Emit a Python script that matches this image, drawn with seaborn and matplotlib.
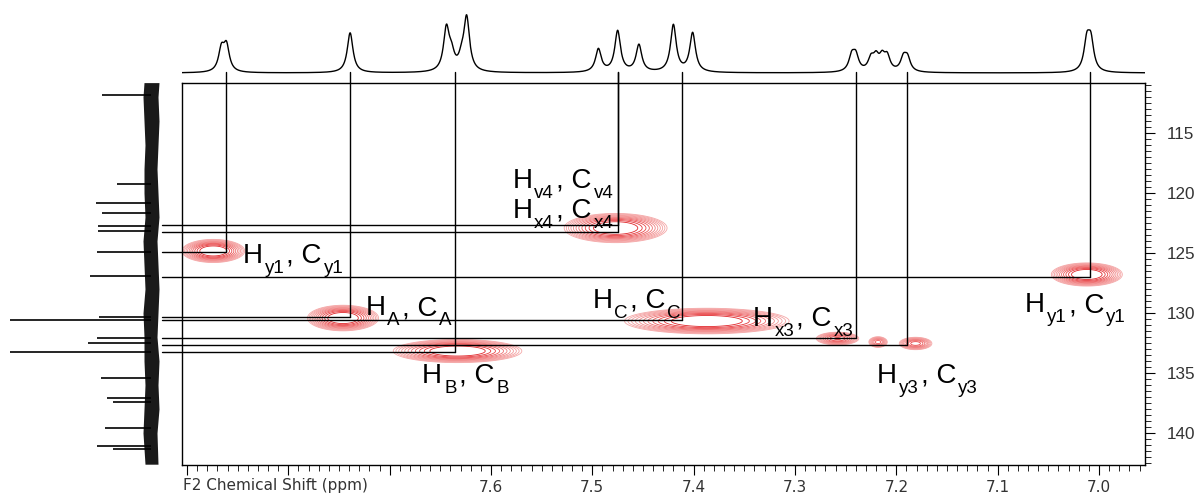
import numpy as np
import pandas as pd
import matplotlib
matplotlib.use("Agg")
import matplotlib.pyplot as plt
from matplotlib.colors import LinearSegmentedColormap
import seaborn as sns

# ---------------- data ----------------
# 1H projection (top trace): peak positions (ppm) and heights
h_peak_ppm = [7.866, 7.861, 7.739, 7.644, 7.639, 7.629, 7.624, 7.494, 7.475, 7.454,
              7.420, 7.401, 7.244, 7.240, 7.225, 7.220, 7.214, 7.209, 7.193, 7.189,
              7.012, 7.008]
h_peak_int = [22, 25, 40, 42, 15, 10, 53, 23, 41, 27,
              47, 39, 15, 15, 12, 13, 13, 14, 13, 13,
              29, 29]

# 13C projection (left trace): peak positions (ppm) and heights
c_peak_ppm = [111.8, 119.25, 120.8, 121.7, 122.75, 123.2, 124.9, 126.9, 130.33, 130.55,
              132.1, 132.5, 133.25, 135.4, 137.1, 137.4, 139.6, 141.1, 141.3]
c_peak_int = [49, 34, 55, 49, 53, 53, 54, 61, 52, 141,
              54, 63, 141, 50, 44, 38, 46, 54, 38]
# noise envelope of the 13C trace
noise_ppm = [110.8, 112, 114, 116, 118, 120, 122, 124, 126, 128, 130, 132, 134, 136, 138, 140, 142.6]
noise_hi = [7, 8, 7, 6, 7, 7, 6, 8, 7, 6, 8, 7, 7, 6, 7, 8, 6]
noise_lo = [-8, -7, -8, -7, -6, -7, -8, -6, -7, -8, -7, -6, -8, -7, -8, -6, -7]

# HSQC cross peaks: centre (1H, 13C), widths, relative amplitude
xp_h = [7.874, 7.746, 7.633, 7.477, 7.387, 7.258, 7.218, 7.181, 7.012]
xp_c = [124.83, 130.42, 133.17, 122.92, 130.67, 132.13, 132.42, 132.54, 126.79]
xp_wh = [0.0122, 0.0138, 0.025, 0.020, 0.032, 0.0095, 0.0045, 0.0075, 0.0138]
xp_wc = [0.38, 0.42, 0.38, 0.48, 0.42, 0.24, 0.22, 0.24, 0.38]
xp_amp = [1.0, 1.0, 1.0, 1.0, 1.0, 0.45, 0.3, 0.4, 1.0]

# assignments: guide-line positions
asg_h = [7.8615, 7.739, 7.6355, 7.4747, 7.4747, 7.4115, 7.2398, 7.1895, 7.0089]
asg_c = [124.92, 130.33, 133.25, 122.67, 123.25, 130.58, 132.08, 132.67, 127.0]

# assignment labels: (text pieces, is_subscript), anchor (1H, 13C)
lab_parts = [
    [("H", 0), ("y1", 1), (", C", 0), ("y1", 1)],
    [("H", 0), ("A", 1), (", C", 0), ("A", 1)],
    [("H", 0), ("B", 1), (", C", 0), ("B", 1)],
    [("H", 0), ("v4", 1), (", C", 0), ("v4", 1)],
    [("H", 0), ("x4", 1), (", C", 0), ("x4", 1)],
    [("H", 0), ("C", 1), (", C", 0), ("C", 1)],
    [("H", 0), ("x3", 1), (", C", 0), ("x3", 1)],
    [("H", 0), ("y3", 1), (", C", 0), ("y3", 1)],
    [("H", 0), ("y1", 1), (", C", 0), ("y1", 1)],
]
lab_h = [7.845, 7.724, 7.668, 7.579, 7.579, 7.500, 7.342, 7.219, 7.073]
lab_c = [125.83, 130.17, 135.83, 119.58, 122.08, 129.58, 131.08, 135.83, 129.92]

x_ticks = [7.9, 7.8, 7.7, 7.6, 7.5, 7.4, 7.3, 7.2, 7.1, 7.0]
x_ticklabels = ["", "", "", "7.6", "7.5", "7.4", "7.3", "7.2", "7.1", "7.0"]
y_ticks = [115, 120, 125, 130, 135, 140]

# ---------------- figure ----------------
sns.set_theme(style="white")
plt.rcParams["font.family"] = ["Liberation Sans", "DejaVu Sans"]

W, H = 1197, 496
fig = plt.figure(figsize=(W / 100, H / 100), dpi=100)


def rect(x0, y0, x1, y1):
    return [x0 / W, 1 - y1 / H, (x1 - x0) / W, (y1 - y0) / H]


ax = fig.add_axes(rect(182, 83, 1145, 465))
axt = fig.add_axes(rect(182, 0, 1145, 80))
axl = fig.add_axes(rect(0, 83, 170, 465))

XL = (7.9049, 6.9546)
YL = (142.667, 110.833)

# ---- top 1H projection ----
ppm = np.linspace(XL[0], XL[1], 5000)
gam = 0.0034
spec = np.zeros_like(ppm)
for p, a in zip(h_peak_ppm, h_peak_int):
    spec += a / (1 + ((ppm - p) / gam) ** 2)
df_top = pd.DataFrame({"ppm": ppm, "int": spec})
sns.lineplot(data=df_top, x="ppm", y="int", ax=axt, color="black", lw=1.0,
             estimator=None, sort=False)
axt.set_xlim(*XL)
axt.set_ylim(-7, 73)
axt.axis("off")

# ---- left 13C projection ----
axl.fill_betweenx(noise_ppm, noise_lo, noise_hi, color="#1a1a1a", lw=0)
axl.hlines(c_peak_ppm, 0, c_peak_int, color="black", lw=1.2)
axl.set_ylim(*YL)
axl.set_xlim(151, -19)
axl.axis("off")

# ---- HSQC contours ----
gx = np.linspace(XL[1], XL[0], 1400)
gy = np.linspace(YL[1], YL[0], 900)
GX, GY = np.meshgrid(gx, gy)
Z = np.zeros_like(GX)
for h, c, wh, wc, a in zip(xp_h, xp_c, xp_wh, xp_wc, xp_amp):
    Z += a * np.exp(-0.5 * (((GX - h) / wh) ** 2 + ((GY - c) / wc) ** 2))
levels = np.geomspace(0.04, 0.55, 11)
cmap = LinearSegmentedColormap.from_list("reds", ["#f5a8a8", "#ea4a4c", "#e0262a"])
ax.contour(GX, GY, Z, levels=levels, cmap=cmap, linewidths=0.6, zorder=2)

# ---- guide lines ----
c_top = 109.917
h_left = 7.9247
for h, c in zip(asg_h, asg_c):
    ax.plot([h, h], [c_top, c], color="black", lw=1.0, clip_on=False, zorder=3)
    ax.plot([h_left, h], [c, c], color="black", lw=1.0, clip_on=False, zorder=3)

# ---- labels ----
renderer = fig.canvas.get_renderer()
for parts, lh, lc in zip(lab_parts, lab_h, lab_c):
    xoff = 0.0
    for txt, sub in parts:
        fs = 13.5 if sub else 20
        dy = -10 if sub else 0
        t = ax.annotate(txt, xy=(lh, lc), xycoords="data",
                        xytext=(xoff * 0.72, dy * 0.72), textcoords="offset points",
                        fontsize=fs, va="baseline", ha="left", color="black",
                        family="Liberation Sans", zorder=4)
        bb = t.get_window_extent(renderer)
        xoff += bb.width + 2.0

# ---- axes styling ----
ax.set_xlim(*XL)
ax.set_ylim(*YL)
for s in ax.spines.values():
    s.set_color("black")
    s.set_linewidth(1.0)
ax.set_xticks(x_ticks)
ax.set_xticklabels(x_ticklabels)
ax.set_xticks(np.round(np.arange(6.96, 7.905, 0.01), 2), minor=True)
ax.set_yticks(y_ticks)
ax.set_yticklabels([str(v) for v in y_ticks])
ax.set_yticks(np.arange(111.0, 142.6, 0.5), minor=True)
ax.yaxis.tick_right()
ax.tick_params(axis="x", which="major", direction="out", length=7, width=0.8,
               color="black", pad=4, labelsize=11, labelcolor="#333333",
               bottom=True, top=False)
ax.tick_params(axis="x", which="minor", direction="out", length=4, width=0.6,
               color="black", bottom=True, top=False)
ax.tick_params(axis="y", which="major", direction="out", length=7, width=0.8,
               color="black", pad=9, labelsize=12.3, labelcolor="#333333",
               right=True, left=False)
ax.tick_params(axis="y", which="minor", direction="out", length=4, width=0.6,
               color="black", right=True, left=False)
for lab in ax.get_xticklabels():
    lab.set_family("DejaVu Sans")
ax.set_xlabel("")
ax.set_ylabel("")
ax.grid(False)

fig.text(183 / W, 1 - 490 / H, "F2 Chemical Shift (ppm)", fontsize=11,
         color="#333333", family="DejaVu Sans", va="baseline", ha="left")

fig.savefig("out.png", dpi=100)
